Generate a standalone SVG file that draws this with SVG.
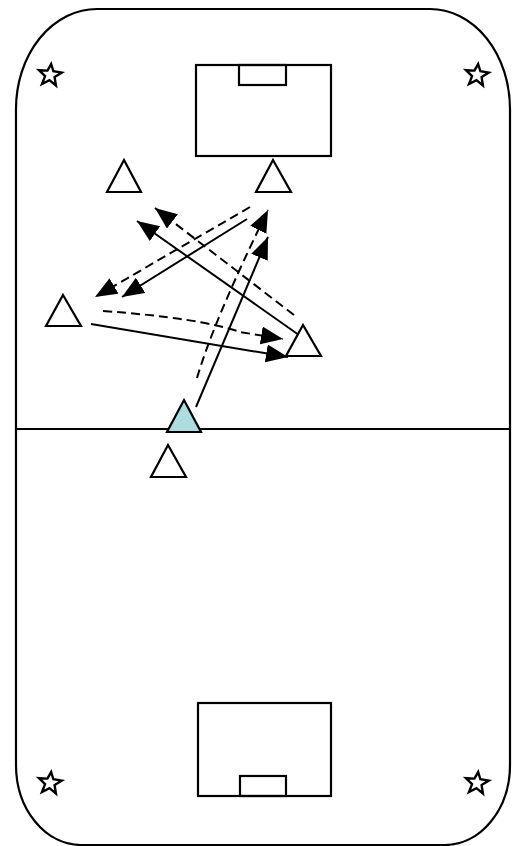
<svg xmlns="http://www.w3.org/2000/svg" width="512" height="846" viewBox="0 0 512 846">
<style>
.ln{stroke:#000;stroke-width:2.2;fill:none}
.sol{stroke:#000;stroke-width:2;fill:none}
.dash{stroke:#000;stroke-width:2;fill:none;stroke-dasharray:9,5}
.tri{fill:#fff;stroke:#000;stroke-width:2.2;stroke-linejoin:miter}
.star{fill:#fff;stroke:#000;stroke-width:2.4;stroke-linejoin:miter}
</style>
<defs>
<marker id="ah" markerUnits="userSpaceOnUse" markerWidth="24" markerHeight="20" refX="22" refY="9" orient="auto">
<path d="M0,0 L22,9 L0,18 Z" fill="#000"/>
</marker>
<polygon id="st" points="0,-11 3,-4.1 11.5,-3.6 4.8,1.6 7,9.8 0,5.1 -7,9.8 -4.8,1.6 -11.5,-3.6 -3,-4.1"/>
</defs>
<rect width="512" height="846" fill="#fff"/>
<g id="field">
<path class="ln" d="M97,9 H430 A80,100 0 0 1 510,109 V765 A65,80 0 0 1 445,845 H81 A65,80 0 0 1 16,765 V109 A81,100 0 0 1 97,9 Z"/>
<line class="ln" x1="16" y1="429" x2="510" y2="429"/>
<rect class="ln" x="196" y="65" width="135" height="91"/>
<rect class="ln" x="239" y="65" width="47" height="20"/>
<rect class="ln" x="198" y="703" width="133" height="93"/>
<rect class="ln" x="240" y="776" width="46" height="20"/>
</g>
<g id="stars">
<use href="#st" class="star" transform="translate(50,75) rotate(6)"/>
<use href="#st" class="star" transform="translate(477,75) rotate(6)"/>
<use href="#st" class="star" transform="translate(50,783) rotate(6)"/>
<use href="#st" class="star" transform="translate(477,783) rotate(6)"/>
</g>
<g id="connectors">
<line class="dash" x1="250" y1="207" x2="95" y2="297" marker-end="url(#ah)"/>
<line class="sol" x1="247" y1="219" x2="122" y2="297" marker-end="url(#ah)"/>
<line class="dash" x1="294" y1="315" x2="155" y2="208" marker-end="url(#ah)"/>
<line class="sol" x1="316" y1="347" x2="137" y2="221" marker-end="url(#ah)"/>
<path class="dash" d="M197,378 Q214,320 268,210" marker-end="url(#ah)"/>
<line class="sol" x1="196" y1="407" x2="268" y2="237" marker-end="url(#ah)"/>
<path class="dash" d="M103,311 Q200,318 240,332 L283,339" marker-end="url(#ah)"/>
<line class="sol" x1="91" y1="324" x2="288" y2="357" marker-end="url(#ah)"/>
</g>
<g id="p1"><polygon class="tri" points="124,160 141,192 107,192"/></g>
<g id="p2"><polygon class="tri" points="273,160 291,192 256,192"/></g>
<g id="p3"><polygon class="tri" points="63,295 81,326 46,326"/></g>
<g id="p4"><polygon class="tri" points="303,325 321,356 286,356"/></g>
<g id="p5"><polygon class="tri" points="184,400 201,432 167,432" style="fill:#aedde0"/></g>
<g id="p6"><polygon class="tri" points="168,445 186,477 151,477"/></g>
</svg>
